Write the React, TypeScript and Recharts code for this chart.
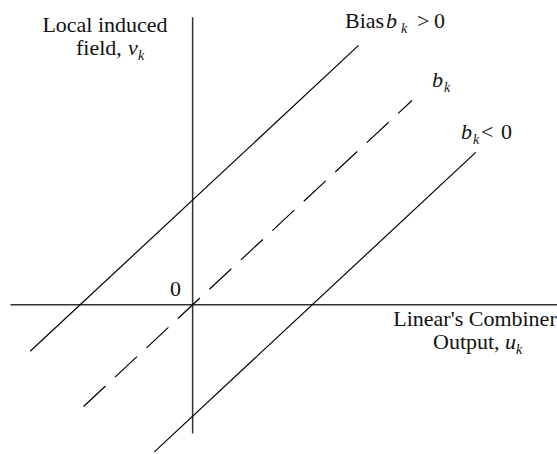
import React from 'react';
import { LineChart, Line, XAxis, YAxis, ReferenceLine } from 'recharts';

// Linear combiner output u_k vs local induced field v_k = u_k + b_k
const biasPosU = [-1.4, 1.43];
const biasPosV = [-0.43, 2.4];
const biasZeroU = [-0.94, 1.89];
const biasZeroV = [-0.94, 1.89];
const biasNegU = [-0.33, 2.44];
const biasNegV = [-1.36, 1.41];

const xDomain = [-1.66, 3.14];
const yDomain = [-1.38, 2.82];
const vAxisRange = [-1.19, 2.66];
const uAxisRange = [-1.57, 3.14];

const toPoints = (u: number[], v: number[]) => u.map((x, i) => ({ u: x, v: v[i] }));

const serif = 'Liberation Serif, Times New Roman, DejaVu Serif, serif';

function Labels() {
    const t = { fill: '#111', style: { fontFamily: serif, fontSize: 22 } };
    const it = { fill: '#111', style: { fontFamily: serif, fontSize: 22, fontStyle: 'italic' as const } };
    const sub = { fill: '#111', style: { fontFamily: serif, fontSize: 14, fontStyle: 'italic' as const } };
    return (
        <svg width={557} height={454} style={{ position: 'absolute', left: 0, top: 0, pointerEvents: 'none' }}>
            <text x={105} y={32} textAnchor="middle" {...t}>Local induced</text>
            <text x={76} y={55} {...t}>field,</text>
            <text x={128} y={55} {...it}>v</text>
            <text x={138} y={60} {...sub}>k</text>

            <text x={345} y={28} {...t}>Bias</text>
            <text x={386} y={28} {...it}>b</text>
            <text x={401} y={33} {...sub}>k</text>
            <text x={417} y={28} {...t}>&gt;</text>
            <text x={434} y={28} {...t}>0</text>

            <text x={432} y={87} {...it}>b</text>
            <text x={444} y={92} {...sub}>k</text>

            <text x={461} y={139} {...it}>b</text>
            <text x={473} y={144} {...sub}>k</text>
            <text x={481} y={139} {...t}>&lt;</text>
            <text x={501} y={139} {...t}>0</text>

            <text x={170} y={296} {...t}>0</text>

            <text x={475} y={326} textAnchor="middle" {...t}>Linear's Combiner</text>
            <text x={433} y={349} {...t}>Output,</text>
            <text x={505} y={349} {...it}>u</text>
            <text x={516} y={354} {...sub}>k</text>
        </svg>
    );
}

export default function App() {
    return (
        <div style={{ position: 'absolute', left: 0, top: 0, width: 557, height: 454, background: '#fff' }}>
            <LineChart width={557} height={454} margin={{ top: 0, right: 0, bottom: 0, left: 0 }}>
                <XAxis dataKey="u" type="number" domain={xDomain} allowDataOverflow hide />
                <YAxis type="number" domain={yDomain} allowDataOverflow hide />
                <ReferenceLine
                    segment={[{ x: 0, y: vAxisRange[0] }, { x: 0, y: vAxisRange[1] }]}
                    stroke="#333"
                    strokeWidth={1.5}
                    ifOverflow="visible"
                />
                <ReferenceLine
                    segment={[{ x: uAxisRange[0], y: 0 }, { x: uAxisRange[1], y: 0 }]}
                    stroke="#333"
                    strokeWidth={1.5}
                    ifOverflow="visible"
                />
                <Line data={toPoints(biasPosU, biasPosV)} dataKey="v" stroke="#000" strokeWidth={1.2} dot={false} activeDot={false} isAnimationActive={false} />
                <Line data={toPoints(biasZeroU, biasZeroV)} dataKey="v" stroke="#000" strokeWidth={1.2} strokeDasharray="30 13" dot={false} activeDot={false} isAnimationActive={false} />
                <Line data={toPoints(biasNegU, biasNegV)} dataKey="v" stroke="#000" strokeWidth={1.2} dot={false} activeDot={false} isAnimationActive={false} />
            </LineChart>
            <Labels />
        </div>
    );
}
